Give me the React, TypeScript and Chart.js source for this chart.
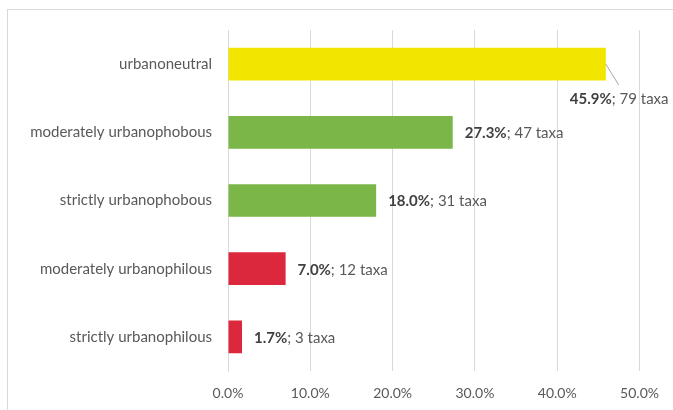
import React, { useEffect, useRef } from "react";
import { Chart, registerables } from "chart.js";

Chart.register(...registerables);

const categories = [
  "urbanoneutral",
  "moderately urbanophobous",
  "strictly urbanophobous",
  "moderately urbanophilous",
  "strictly urbanophilous",
];
const percentValues = [45.9, 27.3, 18.0, 7.0, 1.7];
const taxaCounts = [79, 47, 31, 12, 3];
const barColors = ["#F2E600", "#7AB648", "#7AB648", "#DC283C", "#DC283C"];
const xTickMax = 50;
const xTickStep = 10;

const FONT = "Lato, 'Open Sans', sans-serif";

const decorPlugin = {
  id: "decor",
  beforeDraw(chart: any) {
    const ctx = chart.ctx;
    ctx.save();
    ctx.strokeStyle = "#D9D9D9";
    ctx.lineWidth = 1;
    ctx.strokeRect(7.5, 9.5, chart.width + 10, chart.height + 10);
    ctx.restore();
  },
  afterDatasetsDraw(chart: any) {
    const ctx = chart.ctx;
    const meta = chart.getDatasetMeta(0);
    ctx.save();
    ctx.textBaseline = "middle";
    meta.data.forEach((bar: any, i: number) => {
      const boldText = percentValues[i].toFixed(1) + "%";
      const normalText = "; " + taxaCounts[i] + " taxa";
      let x = bar.x + 12;
      let y = bar.y + 1;
      if (i === 0) {
        ctx.strokeStyle = "#A6A6A6";
        ctx.lineWidth = 1;
        ctx.beginPath();
        ctx.moveTo(bar.x, bar.y);
        ctx.lineTo(bar.x + 13, bar.y + 21);
        ctx.stroke();
        x = bar.x - 36;
        y = bar.y + 35;
      }
      ctx.font = "bold 15px " + FONT;
      ctx.fillStyle = "#404040";
      ctx.textAlign = "left";
      ctx.fillText(boldText, x, y);
      const w = ctx.measureText(boldText).width;
      ctx.font = "15px " + FONT;
      ctx.fillStyle = "#595959";
      ctx.fillText(normalText, x + w, y);
    });
    ctx.restore();
  },
};

export default function App() {
  const ref = useRef<HTMLCanvasElement | null>(null);
  useEffect(() => {
    if (!ref.current) return;
    const chart = new Chart(ref.current, {
      type: "bar",
      data: {
        labels: categories,
        datasets: [
          {
            data: percentValues,
            backgroundColor: barColors,
            borderWidth: 0,
            barPercentage: 0.48,
            categoryPercentage: 1,
          },
        ],
      },
      options: {
        indexAxis: "y",
        animation: false,
        responsive: false,
        layout: { padding: { top: 30, right: 33, left: 0, bottom: 0 } },
        plugins: {
          legend: { display: false },
          tooltip: { enabled: false },
        },
        scales: {
          x: {
            min: 0,
            max: xTickMax,
            afterFit(scale: any) {
              scale.height = 39;
            },
            ticks: {
              stepSize: xTickStep,
              padding: 14,
              color: "#595959",
              font: { family: FONT, size: 14 },
              callback: (v: any) => Number(v).toFixed(1) + "%",
            },
            grid: { color: "#D9D9D9", drawTicks: false, lineWidth: 1 },
            border: { display: false },
          },
          y: {
            afterFit(scale: any) {
              scale.width = 228;
            },
            ticks: {
              padding: 16,
              color: "#595959",
              font: { family: FONT, size: 15 },
            },
            grid: { display: false, drawTicks: false },
            border: { display: true, color: "#D9D9D9" },
          },
        },
      },
      plugins: [decorPlugin],
    });
    return () => chart.destroy();
  }, []);
  return (
    <div style={{ position: "absolute", left: 0, top: 0, width: 673, height: 410 }}>
      <canvas ref={ref} width={673} height={410} style={{ display: "block" }} />
    </div>
  );
}
